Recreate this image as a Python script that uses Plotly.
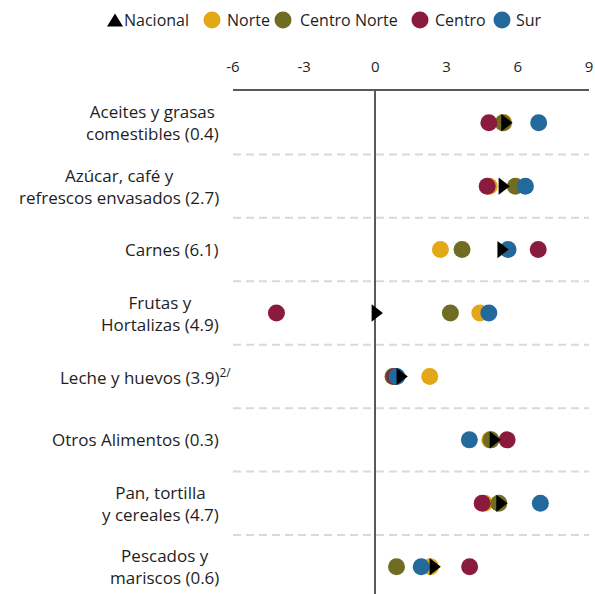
import plotly.graph_objects as go

categories = [
    "Aceites y grasas<br>comestibles (0.4)",
    "Azúcar, café y<br>refrescos envasados (2.7)",
    "Carnes (6.1)",
    "Frutas y<br>Hortalizas (4.9)",
    "Leche y huevos (3.9)<sup>2/</sup>",
    "Otros Alimentos (0.3)",
    "Pan, tortilla<br>y cereales (4.7)",
    "Pescados y<br>mariscos (0.6)",
]
nacional = [5.46, 5.35, 5.30, 0.00, 1.05, 4.97, 5.25, 2.44]
norte = [5.41, 4.80, 2.74, 4.40, 2.29, 4.82, 4.60, 2.32]
centro_norte = [5.38, 5.90, 3.65, 3.16, 0.74, 4.87, 5.20, 0.89]
centro = [4.78, 4.71, 6.86, -4.17, 0.81, 5.55, 4.50, 3.97]
sur = [6.88, 6.32, 5.59, 4.78, 0.90, 3.96, 6.95, 1.93]

x_ticks = [-6, -3, 0, 3, 6, 9]
series_names = ["Nacional", "Norte", "Centro Norte", "Centro", "Sur"]
colors = {"Norte": "#E2A817", "Centro Norte": "#706D22", "Centro": "#8B1B3C", "Sur": "#24699C"}

W, H = 595, 594
L, R, T, B = 233, 6, 91, 0
PW, PH = W - L - R, H - T - B
FONT = "Open Sans"
TXT = "#1e1e1e"


def px_x(px):
    return (px - L) / PW


def px_y(py):
    return (H - B - py) / PH


ypos = list(range(len(categories)))

fig = go.Figure()
for name, vals in [("Norte", norte), ("Centro Norte", centro_norte), ("Centro", centro), ("Sur", sur)]:
    fig.add_trace(go.Scatter(
        x=vals, y=ypos, mode="markers", name=name, showlegend=False,
        marker=dict(symbol="circle", size=17, color=colors[name], line=dict(width=0)),
    ))
fig.add_trace(go.Scatter(
    x=nacional, y=ypos, mode="markers", name="Nacional", showlegend=False,
    marker=dict(symbol="triangle-right", size=15, color="black", line=dict(width=0)),
))

shapes = []
for i in range(len(categories) - 1):
    shapes.append(dict(type="line", xref="paper", yref="y", x0=0, x1=1, y0=i + 0.5, y1=i + 0.5,
                       line=dict(color="#d9d9d9", width=2, dash="8px,5px"), layer="below"))

annotations = []
for i, cat in enumerate(categories):
    right = 233 if "<sup>" in cat else 221
    annotations.append(dict(text=cat, x=px_x(right), y=i, xref="paper", yref="y",
                            xanchor="right", yanchor="middle", align="center", showarrow=False,
                            font=dict(family=FONT, size=17, color=TXT)))

# legend drawn as shapes + text
leg_y = px_y(20)
shapes.append(dict(type="path", xref="paper", yref="paper", xsizemode="pixel", ysizemode="pixel",
                   xanchor=px_x(115), yanchor=leg_y, path="M -8,-6.5 L 8,-6.5 L 0,6.5 Z",
                   fillcolor="black", line=dict(width=0)))
leg_items = [("Norte", 212, 225), ("Centro Norte", 283, 298), ("Centro", 420, 433), ("Sur", 502, 514)]
for name, cx, tx in leg_items:
    shapes.append(dict(type="circle", xref="paper", yref="paper", xsizemode="pixel", ysizemode="pixel",
                       xanchor=px_x(cx), yanchor=leg_y, x0=-8.5, x1=8.5, y0=-8.5, y1=8.5,
                       fillcolor=colors[name], line=dict(width=0)))
for name, tx in [("Nacional", 122)] + [(n, t) for n, _, t in leg_items]:
    annotations.append(dict(text=name, x=px_x(tx), y=leg_y, xref="paper", yref="paper",
                            xanchor="left", yanchor="middle", showarrow=False,
                            font=dict(family=FONT, size=16, color=TXT)))

fig.update_layout(
    width=W, height=H, margin=dict(l=L, r=R, t=T, b=B, pad=0),
    paper_bgcolor="white", plot_bgcolor="white", showlegend=False,
    shapes=shapes, annotations=annotations,
    xaxis=dict(range=[-6, 9], side="top", tickvals=x_ticks, ticktext=[str(v) for v in x_ticks],
               showgrid=False, zeroline=True, zerolinecolor="#595959", zerolinewidth=2,
               showline=True, linecolor="#595959", linewidth=2, ticks="",
               ticklabelstandoff=11, tickfont=dict(family=FONT, size=15, color=TXT), fixedrange=True),
    yaxis=dict(range=[7.43, -0.5], showticklabels=False, showgrid=False, zeroline=False,
               showline=False, ticks="", fixedrange=True),
)

fig.write_html("out.html", config={"displayModeBar": False},
               post_script="document.body.style.margin='0';")
